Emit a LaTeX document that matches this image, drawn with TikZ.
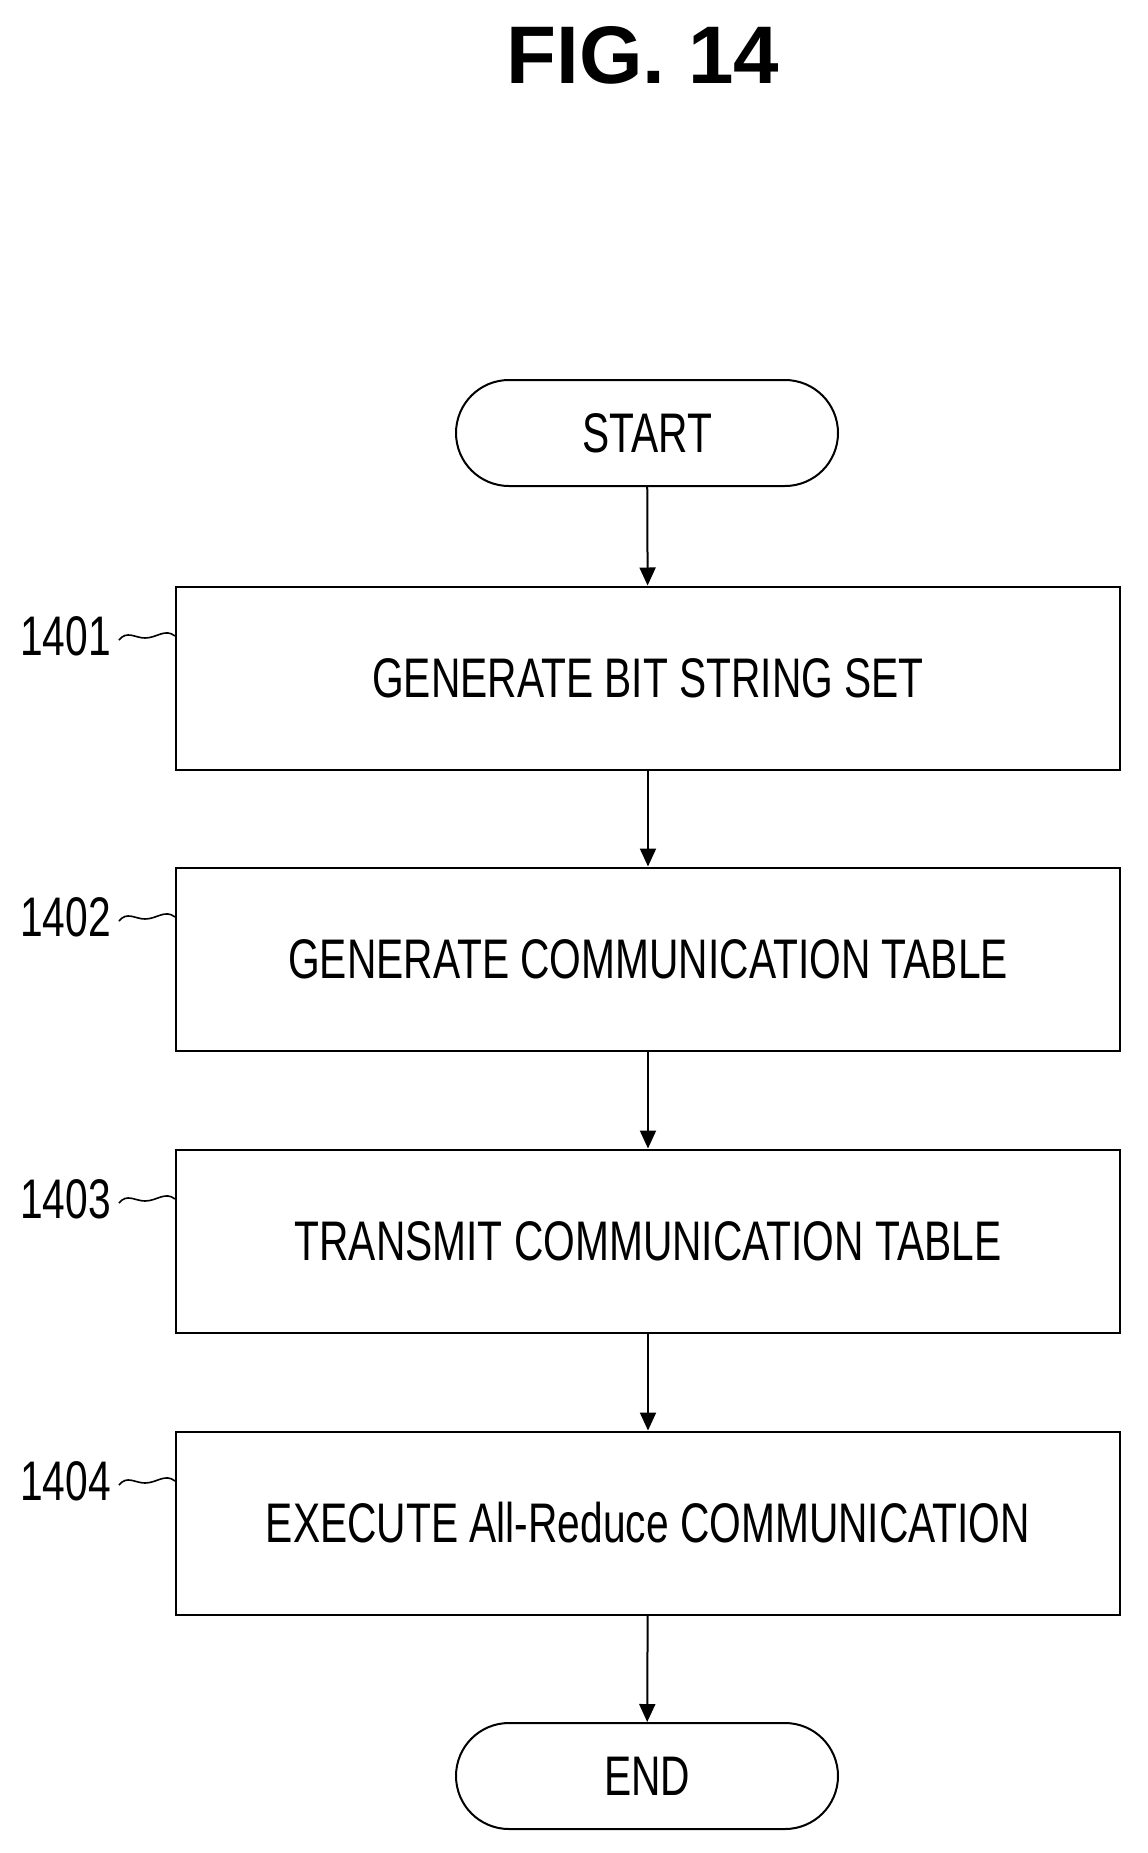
\documentclass[tikz,border=0pt]{standalone}
\usepackage{fontspec}
\setmainfont{Liberation Sans}
\newfontfamily\narrowfont[FakeStretch=0.73]{Liberation Sans}
\usetikzlibrary{arrows.meta,positioning,shapes.misc}
\tikzset{
  procbox/.style={draw, line width=2bp, minimum width=944bp, minimum height=183bp, inner sep=0pt, font=\narrowfont\fontsize{56}{60}\selectfont},
  term/.style={draw, line width=2bp, rounded rectangle, minimum width=382bp, minimum height=106bp, inner sep=0pt, font=\narrowfont\fontsize{56}{60}\selectfont},
  txt/.style={font=\narrowfont\fontsize{56}{60}\selectfont, inner sep=0pt},
  flow/.style={line width=2bp, -{Triangle[width=16bp,length=18bp]}},
  tag/.style={line width=1.6bp}
}
\begin{document}
\begin{tikzpicture}[x=1bp,y=-1bp]
  \useasboundingbox (0,0) rectangle (1147,1853);

  %TITLE
  \node (title) at (643,55) {\fontsize{82}{90}\selectfont\bfseries FIG. 14};

  %NODES
  \node[term] (start) at (647,433) {START};
  \node[procbox] (s1) at (648,678) {GENERATE BIT STRING SET};
  \node[procbox] (s2) at (648,959) {GENERATE COMMUNICATION TABLE};
  \node[procbox] (s3) at (648,1241) {TRANSMIT COMMUNICATION TABLE};
  \node[procbox] (s4) at (648,1523) {EXECUTE All-Reduce COMMUNICATION};
  \node[term] (end) at (647,1776) {END};

  %ARROWS
  \draw[flow] (start) -- (s1);
  \draw[flow] (s1) -- (s2);
  \draw[flow] (s2) -- (s3);
  \draw[flow] (s3) -- (s4);
  \draw[flow] (s4) -- (end);

  %LABELS
  \foreach \n/\s in {1401/s1,1402/s2,1403/s3,1404/s4}{
    \node[txt, anchor=east] (l\n) at ([xshift=-64bp,yshift=42bp]\s.west) {\n};
    \draw[tag] ([xshift=8bp,yshift=-4bp]l\n.east) .. controls +(8,-10) and +(-10,0) .. +(26,-2)
      .. controls +(12,0) and +(-10,-8) .. (\s.west |- l\n.east);
  }
\end{tikzpicture}
\end{document}
